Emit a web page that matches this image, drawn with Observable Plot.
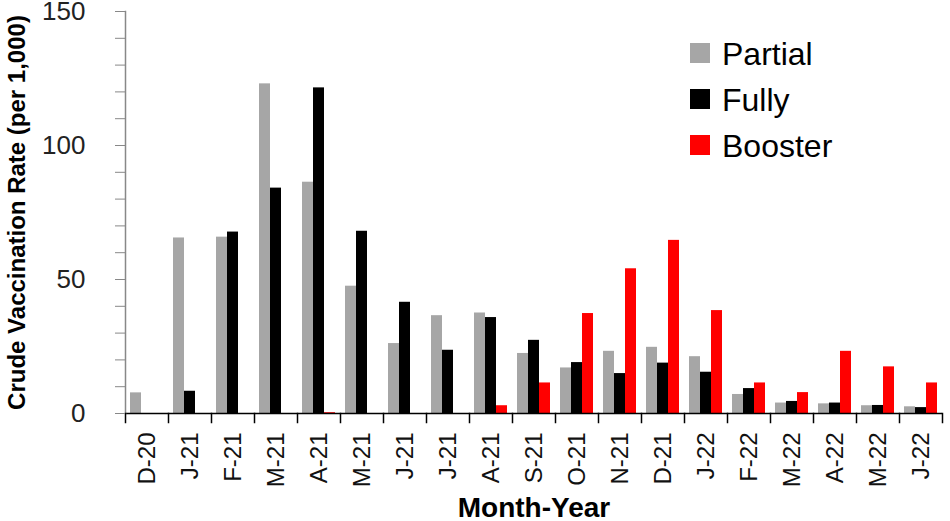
<!DOCTYPE html>
<html>
<head>
<meta charset="utf-8">
<script src="https://cdn.jsdelivr.net/npm/d3@7"></script>
<script src="https://cdn.jsdelivr.net/npm/@observablehq/plot@0.6"></script>
<style>
  html, body { margin: 0; padding: 0; background: #fff; }
  #wrap { position: relative; width: 950px; height: 521px; font-family: "Liberation Sans", Arial, sans-serif; }
  #legend { position: absolute; left: 690px; top: 43px; }
  .item { display: flex; align-items: flex-end; height: 20px; margin-bottom: 26px; }
  .sw { width: 20px; height: 20px; margin-right: 12px; }
  .lab { font-size: 32px; line-height: 20px; color: #000; position: relative; top: 1px; }
</style>
</head>
<body>
<div id="wrap"></div>
<script>
const monthLabels = ["D-20","J-21","F-21","M-21","A-21","M-21","J-21","J-21","A-21","S-21","O-21","N-21","D-21","J-22","F-22","M-22","A-22","M-22","J-22"];
const seriesNames = ["Partial","Fully","Booster"];
const seriesColors = ["#a6a6a6","#000000","#ff0000"];
const partial = [7.7, 65.5, 65.8, 123.0, 86.3, 47.5, 26.1, 36.5, 37.5, 22.4, 17.0, 23.2, 24.7, 21.2, 7.1, 3.9, 3.6, 2.9, 2.5];
const fully   = [0, 8.3, 67.7, 84.1, 121.5, 68.0, 41.5, 23.6, 35.8, 27.3, 19.0, 14.9, 18.8, 15.4, 9.3, 4.5, 3.9, 3.0, 2.2];
const booster = [0, 0, 0, 0, 0.3, 0, 0, 0, 2.9, 11.4, 37.3, 54.0, 64.6, 38.4, 11.4, 7.8, 23.2, 17.4, 11.4];
const yTicks = d3.range(0, 151, 10);

const seriesValues = [partial, fully, booster];
const rows = [];
monthLabels.forEach((m, i) => {
  seriesNames.forEach((s, j) => rows.push({key: i, series: s, value: seriesValues[j][i]}));
});
const keys = monthLabels.map((m, i) => i);

const chart = Plot.plot({
  width: 950,
  height: 521,
  marginLeft: 120,
  marginRight: 4,
  marginTop: 11,
  marginBottom: 108,
  style: {fontFamily: "'Liberation Sans', Arial, sans-serif", background: "#fff", color: "#000"},
  fx: {domain: keys, padding: 0},
  x: {domain: seriesNames, paddingInner: 0, paddingOuter: 0.3, axis: null},
  y: {domain: [0, 150]},
  color: {domain: seriesNames, range: seriesColors},
  marks: [
    Plot.barY(rows, {fx: "key", x: "series", y: "value", fill: "series"}),
    Plot.ruleY([0], {stroke: "#000", strokeWidth: 1.5}),
    Plot.frame({anchor: "left", stroke: "#888", strokeWidth: 1.5, facetAnchor: "left"}),
    Plot.frame({anchor: "left", stroke: "#000", strokeWidth: 1.5, insetTop: 402, insetBottom: -9}),
    Plot.frame({anchor: "right", stroke: "#000", strokeWidth: 1.5, insetTop: 402, insetBottom: -9, facetAnchor: "right"}),
    Plot.axisY({
      ticks: yTicks,
      tickFormat: d => d % 50 === 0 ? String(d) : "",
      tickSize: 10,
      tickPadding: 30,
      fontSize: 26,
      stroke: "#888",
      color: "#222",
      label: null
    }),
    Plot.axisY({
      ticks: [],
      label: "Crude Vaccination Rate (per 1,000)",
      labelAnchor: "center",
      labelArrow: "none",
      labelOffset: 118,
      fontSize: 24,
      fontWeight: "bold"
    }),
    Plot.axisFx({
      anchor: "bottom",
      tickFormat: i => monthLabels[i],
      tickRotate: -90,
      tickSize: 0,
      tickPadding: 19,
      fontSize: 24,
      color: "#111",
      label: null
    }),
    Plot.axisFx({
      anchor: "bottom",
      ticks: [],
      label: "Month-Year",
      labelAnchor: "center",
      labelArrow: "none",
      labelOffset: 103,
      fontSize: 28,
      fontWeight: "bold"
    })
  ]
});

const wrap = document.getElementById("wrap");
wrap.appendChild(chart);

const legend = document.createElement("div");
legend.id = "legend";
seriesNames.forEach((s, j) => {
  const item = document.createElement("div");
  item.className = "item";
  const sw = document.createElement("div");
  sw.className = "sw";
  sw.style.background = seriesColors[j];
  const lab = document.createElement("div");
  lab.className = "lab";
  lab.textContent = s;
  item.appendChild(sw);
  item.appendChild(lab);
  legend.appendChild(item);
});
wrap.appendChild(legend);
</script>
</body>
</html>
